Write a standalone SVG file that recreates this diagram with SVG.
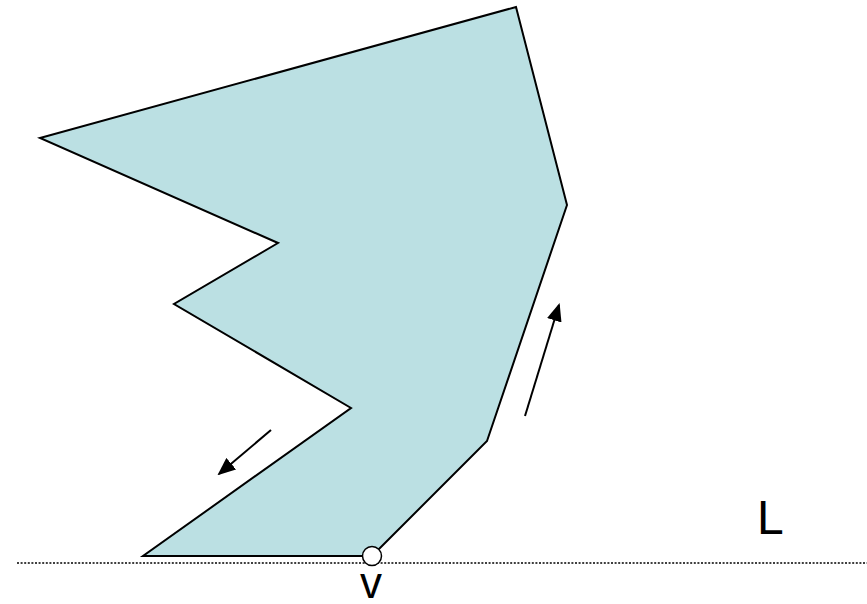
<svg xmlns="http://www.w3.org/2000/svg" width="867" height="604" viewBox="0 0 867 604">
<style>
.poly{fill:#bbe0e3;stroke:#000;stroke-width:2;stroke-linejoin:miter}
.arr{stroke:#000;stroke-width:2;fill:none}
.lbl{font-family:"Liberation Sans",Arial,sans-serif;fill:#000}
</style>
<defs>
<marker id="ah" viewBox="0 0 18 15" refX="16" refY="7.5" markerWidth="18" markerHeight="15" markerUnits="userSpaceOnUse" orient="auto">
<path d="M0,0 L18,7.5 L0,15 Z" fill="#000"/>
</marker>
</defs>
<rect width="867" height="604" fill="#fff"/>
<g id="line-L">
<line x1="17" y1="563" x2="867" y2="563" stroke="#000" stroke-width="1.5" stroke-dasharray="2 1.6"/>
</g>
<g id="polygon">
<polygon class="poly" points="516,7 567,205 487,441 372,556 143,556 351,408 174,304 278,243 40,138"/>
</g>
<g id="connectors">
<line class="arr" x1="525" y1="416" x2="559" y2="305" marker-end="url(#ah)"/>
<line class="arr" x1="271" y1="430" x2="219" y2="474" marker-end="url(#ah)"/>
</g>
<g id="vertex-v">
<circle cx="372" cy="556" r="9.5" fill="#fff" stroke="#000" stroke-width="1.5"/>
<text class="lbl" x="360" y="598" font-size="44">v</text>
</g>
<g id="label-L">
<text class="lbl" x="757" y="534" font-size="48">L</text>
</g>
</svg>
